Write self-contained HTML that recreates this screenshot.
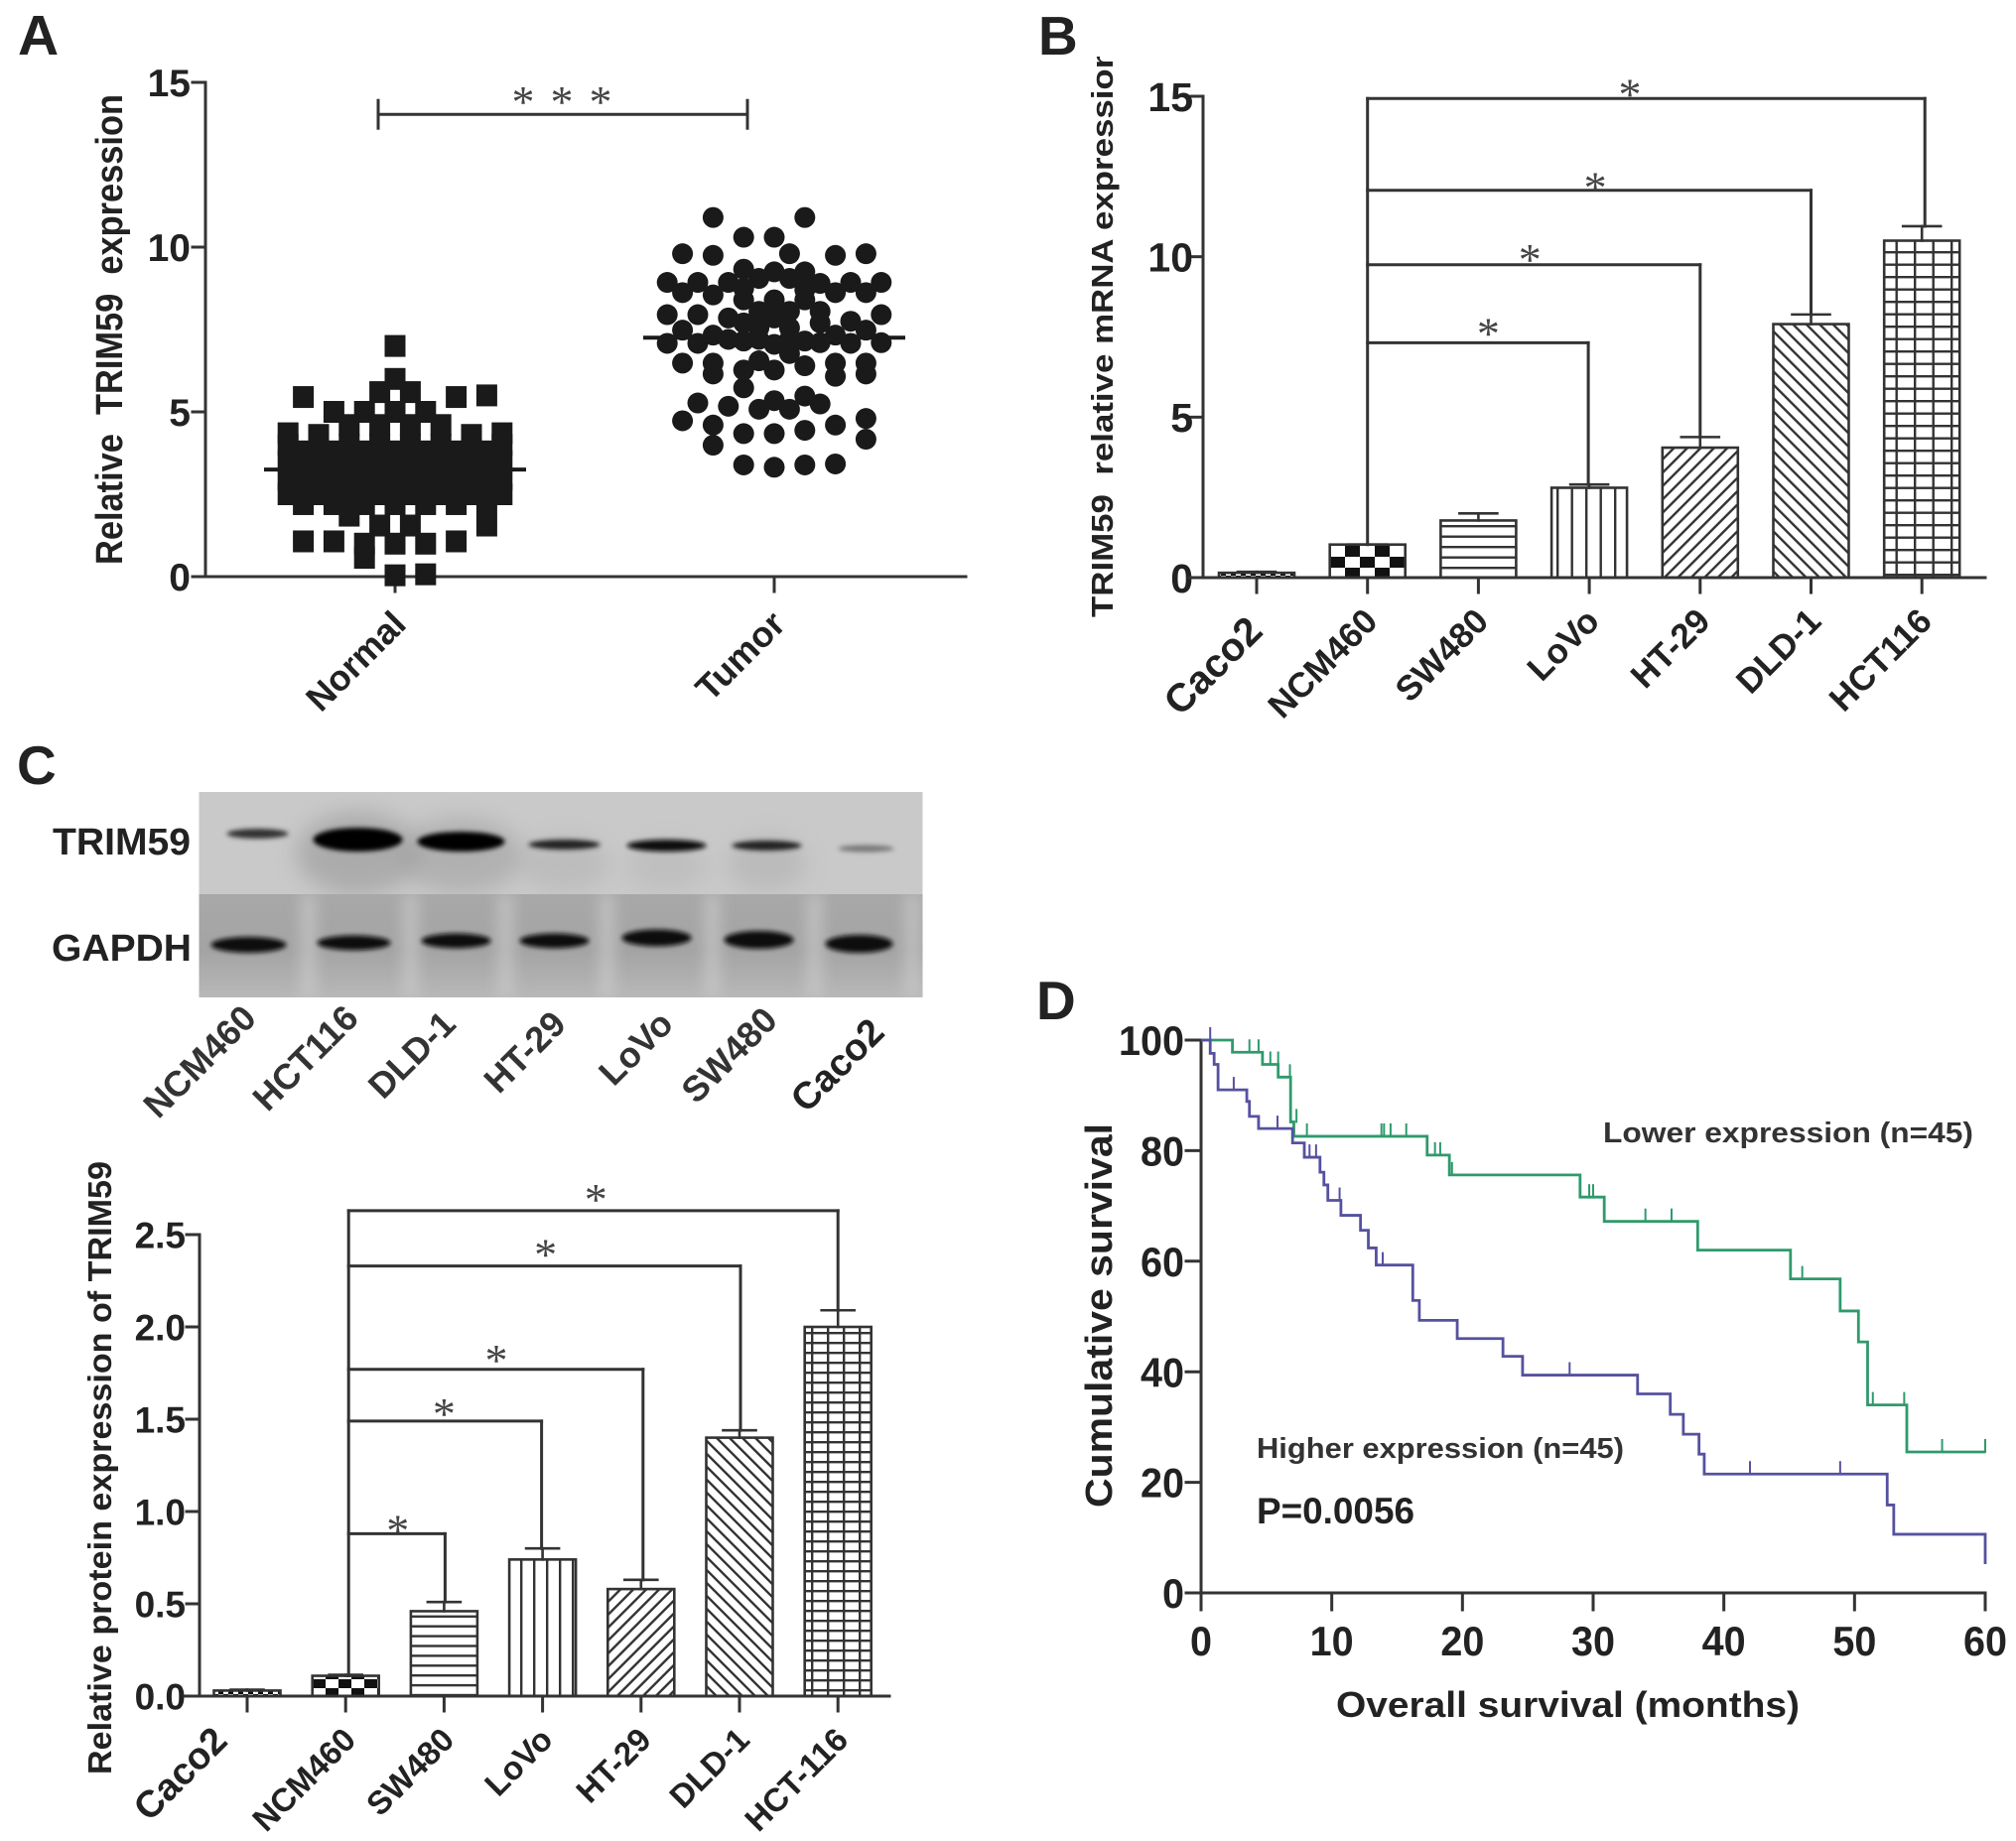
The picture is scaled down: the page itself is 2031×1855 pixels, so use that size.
<!DOCTYPE html>
<html>
<head>
<meta charset="utf-8">
<title>TRIM59 expression figure</title>
<style>
html,body{margin:0;padding:0;background:#fff;}
svg{display:block;font-family:"Liberation Sans",Arial,sans-serif;}
text{fill:#222;font-weight:bold;}
</style>
</head>
<body>
<svg id="fig" xmlns="http://www.w3.org/2000/svg" width="2031" height="1855" viewBox="0 0 2031 1855">
<defs>
  <pattern id="b-p0" width="10" height="8" patternUnits="userSpaceOnUse"><rect width="5" height="4" fill="#111"/><rect x="5" y="4" width="5" height="4" fill="#111"/></pattern>
  <pattern id="b-p1" width="30" height="22" patternUnits="userSpaceOnUse" x="5" y="0"><rect width="15" height="11" fill="#111"/><rect x="15" y="11" width="15" height="11" fill="#111"/></pattern>
  <pattern id="b-p2" width="10" height="10.5" patternUnits="userSpaceOnUse" y="4"><rect width="10" height="2.4" fill="#333"/></pattern>
  <pattern id="b-p3" width="14.5" height="10" patternUnits="userSpaceOnUse" x="2"><rect width="2.4" height="10" fill="#333"/></pattern>
  <pattern id="b-p4" width="9.5" height="9.5" patternUnits="userSpaceOnUse" patternTransform="rotate(45)"><rect width="2.4" height="9.5" fill="#333"/></pattern>
  <pattern id="b-p5" width="9.5" height="9.5" patternUnits="userSpaceOnUse" patternTransform="rotate(-45)"><rect width="2.4" height="9.5" fill="#333"/></pattern>
  <pattern id="b-p6" width="18.5" height="12.5" patternUnits="userSpaceOnUse" x="4" y="3"><rect width="2.4" height="12.5" fill="#333"/><rect width="18.5" height="2.4" fill="#333"/></pattern>
  <pattern id="c-p0" width="10" height="6" patternUnits="userSpaceOnUse"><rect width="5" height="3" fill="#111"/><rect x="5" y="3" width="5" height="3" fill="#111"/></pattern>
  <pattern id="c-p1" width="26" height="18" patternUnits="userSpaceOnUse" x="3" y="0"><rect width="13" height="9" fill="#111"/><rect x="13" y="9" width="13" height="9" fill="#111"/></pattern>
  <pattern id="c-p2" width="10" height="9.9" patternUnits="userSpaceOnUse" y="4"><rect width="10" height="2.4" fill="#333"/></pattern>
  <pattern id="c-p3" width="13" height="10" patternUnits="userSpaceOnUse" x="4"><rect width="2.4" height="10" fill="#333"/></pattern>
  <pattern id="c-p4" width="9.2" height="9.2" patternUnits="userSpaceOnUse" patternTransform="rotate(45)"><rect width="2.4" height="9.2" fill="#333"/></pattern>
  <pattern id="c-p5" width="9.2" height="9.2" patternUnits="userSpaceOnUse" patternTransform="rotate(-45)"><rect width="2.4" height="9.2" fill="#333"/></pattern>
  <pattern id="c-p6" width="16" height="10" patternUnits="userSpaceOnUse" x="1" y="2"><rect width="2.4" height="10" fill="#333"/><rect width="16" height="2.4" fill="#333"/></pattern>
  <filter id="soft" x="-40%" y="-120%" width="180%" height="340%"><feGaussianBlur stdDeviation="2.4"/></filter>
  <filter id="softer" x="-50%" y="-50%" width="200%" height="200%"><feGaussianBlur stdDeviation="11"/></filter>
  <filter id="lane" x="-200%" y="-10%" width="500%" height="120%"><feGaussianBlur stdDeviation="7"/></filter>
  <linearGradient id="gapdh-bg" x1="0" y1="0" x2="0" y2="1"><stop offset="0" stop-color="#a8a8a8"/><stop offset="0.55" stop-color="#a4a4a4"/><stop offset="1" stop-color="#b8b8b8"/></linearGradient>
  <clipPath id="b-title-clip"><rect x="1080" y="57" width="60" height="600"/></clipPath>
  <clipPath id="blot-top-clip"><rect x="204" y="798" width="729" height="103"/></clipPath>
  <clipPath id="blot-bottom-clip"><rect x="204" y="901" width="729" height="104"/></clipPath>
</defs>

<rect width="2031" height="1855" fill="#fff"/>

<text x="18" y="55" font-size="57">A</text>
<text x="1046" y="55" font-size="55">B</text>
<text x="17" y="790" font-size="55">C</text>
<text x="1044" y="1027" font-size="55">D</text>

<text transform="translate(123,569) rotate(-90)" font-size="38" textLength="474" lengthAdjust="spacingAndGlyphs">Relative&#160; TRIM59&#160; expression</text>
<g clip-path="url(#b-title-clip)">
  <text font-size="31" transform="translate(1121,622) rotate(-90)" textLength="574" lengthAdjust="spacingAndGlyphs">TRIM59&#160; relative mRNA expression</text>
</g>
<text transform="translate(112,1788) rotate(-90)" font-size="33" textLength="618" lengthAdjust="spacingAndGlyphs">Relative protein expression of TRIM59</text>
<text transform="translate(1120,1519) rotate(-90)" font-size="38" textLength="387" lengthAdjust="spacingAndGlyphs">Cumulative survival</text>
<text x="1346" y="1730" font-size="36" textLength="467" lengthAdjust="spacingAndGlyphs">Overall survival (months)</text>
<text x="1615" y="1151" font-size="29" textLength="373" lengthAdjust="spacingAndGlyphs" style="fill:#333">Lower expression (n=45)</text>
<text x="1266" y="1469" font-size="29" textLength="370" lengthAdjust="spacingAndGlyphs" style="fill:#333">Higher expression (n=45)</text>
<text x="1266" y="1535" font-size="37" textLength="159" lengthAdjust="spacingAndGlyphs">P=0.0056</text>

<g transform="translate(-3.5,0)">
  <rect x="204" y="798" width="729" height="103" fill="#c9c9c9"/>
  <g clip-path="url(#blot-top-clip)">
    <ellipse cx="364" cy="860" rx="62" ry="42" fill="#8f8f8f" opacity="0.5" filter="url(#softer)"/>
    <ellipse cx="468" cy="862" rx="62" ry="38" fill="#949494" opacity="0.45" filter="url(#softer)"/>
    <ellipse cx="572" cy="870" rx="46" ry="28" fill="#a0a0a0" opacity="0.3" filter="url(#softer)"/>
    <ellipse cx="675" cy="872" rx="40" ry="26" fill="#a8a8a8" opacity="0.3" filter="url(#softer)"/>
    <ellipse cx="776" cy="870" rx="40" ry="28" fill="#a0a0a0" opacity="0.35" filter="url(#softer)"/>
    <ellipse cx="263" cy="840" rx="31" ry="5" fill="#333" filter="url(#soft)"/>
    <ellipse cx="364" cy="846" rx="45" ry="12" fill="#000" filter="url(#soft)"/>
    <ellipse cx="468" cy="848" rx="44" ry="10" fill="#000" filter="url(#soft)"/>
    <ellipse cx="572" cy="851" rx="36" ry="5" fill="#222" filter="url(#soft)"/>
    <ellipse cx="675" cy="852" rx="40" ry="6" fill="#111" filter="url(#soft)"/>
    <ellipse cx="776" cy="852" rx="35" ry="5" fill="#222" filter="url(#soft)"/>
    <ellipse cx="876" cy="855" rx="28" ry="3.5" fill="#777" filter="url(#soft)"/>
  </g>
  <rect x="204" y="901" width="729" height="104" fill="url(#gapdh-bg)"/>
  <g clip-path="url(#blot-bottom-clip)">
    <rect x="306" y="901" width="16" height="104" fill="#cfcfcf" opacity="0.6" filter="url(#lane)"/>
    <rect x="409" y="901" width="16" height="104" fill="#cfcfcf" opacity="0.6" filter="url(#lane)"/>
    <rect x="505" y="901" width="16" height="104" fill="#cfcfcf" opacity="0.6" filter="url(#lane)"/>
    <rect x="607" y="901" width="16" height="104" fill="#cfcfcf" opacity="0.6" filter="url(#lane)"/>
    <rect x="713" y="901" width="16" height="104" fill="#cfcfcf" opacity="0.6" filter="url(#lane)"/>
    <rect x="816" y="901" width="16" height="104" fill="#cfcfcf" opacity="0.6" filter="url(#lane)"/>
    <rect x="915" y="901" width="16" height="104" fill="#cfcfcf" opacity="0.6" filter="url(#lane)"/>
    <ellipse cx="254" cy="952" rx="38" ry="8" fill="#0a0a0a" filter="url(#soft)"/>
    <ellipse cx="360" cy="950" rx="37" ry="7.5" fill="#0a0a0a" filter="url(#soft)"/>
    <ellipse cx="463" cy="948" rx="35" ry="7.5" fill="#0a0a0a" filter="url(#soft)"/>
    <ellipse cx="562" cy="948" rx="35" ry="7.5" fill="#0a0a0a" filter="url(#soft)"/>
    <ellipse cx="665" cy="945" rx="35" ry="8.5" fill="#0a0a0a" filter="url(#soft)"/>
    <ellipse cx="768" cy="947" rx="35" ry="9" fill="#0a0a0a" filter="url(#soft)"/>
    <ellipse cx="869" cy="951" rx="34" ry="9" fill="#0a0a0a" filter="url(#soft)"/>
  </g>
</g>
<text x="53" y="861" font-size="38" textLength="139" lengthAdjust="spacingAndGlyphs">TRIM59</text>
<text x="52" y="968" font-size="38" textLength="141" lengthAdjust="spacingAndGlyphs">GAPDH</text>
<g font-size="36" text-anchor="end">
  <text style="fill:#333" transform="translate(260,1028) rotate(-45)">NCM460</text>
  <text style="fill:#333" transform="translate(363,1028) rotate(-45)">HCT116</text>
  <text style="fill:#333" transform="translate(461,1034) rotate(-45)">DLD-1</text>
  <text style="fill:#333" transform="translate(572,1034) rotate(-45)">HT-29</text>
  <text style="fill:#333" transform="translate(680,1034) rotate(-45)">LoVo</text>
  <text style="fill:#333" transform="translate(785,1030) rotate(-45)">SW480</text>
  <text style="fill:#222" transform="translate(893,1042) rotate(-45)" font-size="38">Caco2</text>
</g>
</svg>

<script>
// ---------- Panel A data ----------
const aCategories = ['Normal', 'Tumor'];
const aYTicks = [0, 5, 10, 15];
const normalValues = [
  7.0, 6.0, 5.6, 5.6, 5.45, 5.45, 5.5, 5.0, 5.0, 5.0, 5.0,
  4.6, 4.6, 4.6, 4.6, 4.35, 4.35, 4.3, 4.3,
  4.0, 4.0, 4.0, 4.0, 4.0, 4.0, 4.0, 4.0,
  3.8, 3.8, 3.8, 3.8, 3.8, 3.8, 3.8,
  3.5, 3.5, 3.5, 3.5, 3.5, 3.5, 3.5, 3.5,
  3.2, 3.2, 3.2, 3.2, 3.2, 3.2, 3.2,
  2.95, 2.95, 2.95, 2.95, 2.95, 2.95, 2.95, 2.95,
  2.65, 2.65, 2.65, 2.65, 2.65, 2.65, 2.65,
  2.5, 2.5, 2.5, 2.5, 2.5, 2.5, 2.5, 2.5,
  2.2, 2.2, 2.2, 2.2, 2.2, 2.2, 2.2,
  1.85, 1.55, 1.55, 1.55,
  1.07, 1.07, 1.0, 1.0, 1.0, 1.07, 0.57, 0.04, 0.07
];
const normalSlots = [
  0, 0, -1, 1, -6, 4, 6, -4, -2, 0, 2,
  -3, -1, 1, 3, -7, 7, -5, 5,
  -7, -5, -3, -1, 1, 3, 5, 7,
  -6, -4, -2, 0, 2, 4, 6,
  -7, -5, -3, -1, 1, 3, 5, 7,
  -6, -4, -2, 0, 2, 4, 6,
  -7, -5, -3, -1, 1, 3, 5, 7,
  -6, -4, -2, 0, 2, 4, 6,
  -7, -5, -3, -1, 1, 3, 5, 7,
  -6, -4, -2, 0, 2, 4, 6,
  -3, -1, 1, 6,
  -6, -4, -2, 0, 2, 4, -2, 0, 2
];
const tumorValues = [
  10.9, 10.9, 10.3, 10.3, 9.8, 9.75, 9.8, 9.75, 9.8,
  9.33, 9.25, 9.25, 8.93, 8.93, 8.93, 9.05, 9.05, 8.9, 8.93, 8.93,
  8.62, 8.55, 8.75, 8.4, 8.7, 8.62, 8.62,
  8.4, 8.25, 8.05, 8.05, 8.4, 8.05, 7.85, 7.7,
  7.95, 7.95, 7.95, 7.75, 7.7, 7.85, 7.55, 7.55,
  7.48, 7.48, 7.33, 7.33,
  7.08, 7.08, 7.2, 7.2, 7.2, 7.1, 7.08, 7.1, 7.15, 7.05, 7.15,
  6.48, 6.48, 6.55, 6.77, 6.27, 6.4, 6.48, 6.48, 6.15, 6.27, 6.08, 6.15,
  5.73, 5.27, 5.17, 5.08, 5.34, 5.08, 5.48, 5.24,
  4.73, 4.6, 4.34, 4.34, 4.44, 4.6, 4.8, 4.17, 3.99,
  3.39, 3.32, 3.39, 3.42
];
const tumorSlots = [
  -4, 2, -2, 0, -6, -4, 1, 4, 6,
  -2, 0, 2, -7, -5, -3, -1, 1, 3, 5, 7,
  -6, -4, -2, 0, 2, 4, 6,
  -2, 0, -1, 1, 2, 3, -3, 3,
  -7, -5, 7, 5, -2, 0, -1, 1,
  -6, 6, -4, 4,
  -7, -5, -3, -1, 1, 3, 5, 7, -2, 0, 2,
  -6, -4, -1, 1, 0, 2, 4, 6, -4, -2, 4, 6,
  -2, -5, -3, -1, 0, 1, 2, 3,
  -6, -4, -2, 0, 2, 4, 6, 6, -4,
  -2, 0, 2, 4
];
const aMedians = [3.25, 7.25];
const aBracketLevel = 14.03;

// ---------- Panel B data ----------
const bCategories = ['Caco2', 'NCM460', 'SW480', 'LoVo', 'HT-29', 'DLD-1', 'HCT116'];
const bValues = [0.15, 1.03, 1.78, 2.8, 4.05, 7.9, 10.5];
const bErrors = [0.03, 0, 0.22, 0.1, 0.33, 0.3, 0.45];
const bYTicks = [0, 5, 10, 15];
const bBracketLevels = [14.93, 12.07, 9.75, 7.32];
const bBracketTargets = [6, 5, 4, 3];

// ---------- Panel C data ----------
const cCategories = ['Caco2', 'NCM460', 'SW480', 'LoVo', 'HT-29', 'DLD-1', 'HCT-116'];
const cValues = [0.03, 0.11, 0.46, 0.74, 0.58, 1.4, 2.0];
const cErrors = [0.005, 0.005, 0.05, 0.06, 0.05, 0.04, 0.09];
const cYTicks = [0, 0.5, 1, 1.5, 2, 2.5];
const cBracketLevels = [2.63, 2.33, 1.77, 1.49, 0.88];
const cBracketTargets = [6, 5, 4, 3, 2];

// ---------- Panel D data ----------
const dXTicks = [0, 10, 20, 30, 40, 50, 60];
const dYTicks = [0, 20, 40, 60, 80, 100];
const lowerTimes = [0, 2.4, 4.7, 5.9, 6.85, 7.1, 8, 17.3, 19, 29, 30.85, 38, 45.1, 48.9, 50.3, 51, 54, 60];
const lowerSurvival = [100, 97.8, 95.6, 93.3, 85.2, 82.6, 82.6, 79.2, 75.6, 71.6, 67.2, 62, 56.8, 51, 45.4, 34, 25.5, 25.5];
const lowerCensorTimes = [3.7, 4.4, 5.3, 5.9, 6.8, 7.3, 8.1, 13.8, 14, 14.5, 15.7, 17.9, 18.3, 19.2, 29.7, 30, 34, 36, 46, 51.4, 53.8, 56.7, 60];
const lowerCensorLevels = [97.8, 97.8, 95.6, 95.6, 93.3, 85.2, 82.6, 82.6, 82.6, 82.6, 82.6, 79.2, 79.2, 75.6, 71.6, 71.6, 67.2, 67.2, 56.8, 34, 34, 25.5, 25.5];
const higherTimes = [0, 0.7, 1.0, 1.3, 3.5, 3.7, 4.4, 7, 7.9, 9.1, 9.4, 9.7, 10.7, 12.2, 12.8, 13.4, 16.2, 16.7, 19.6, 23.1, 24.6, 33.4, 35.9, 36.9, 38.1, 38.5, 52.5, 53, 60];
const higherSurvival = [100, 97.6, 95.6, 91, 88.9, 86.2, 84, 81.4, 78.8, 76.1, 73.8, 71, 68.3, 65.6, 62.4, 59.3, 52.9, 49.3, 46, 42.8, 39.4, 36, 32.3, 28.7, 25.1, 21.5, 15.9, 10.6, 5.2];
const higherCensorTimes = [0.7, 2.5, 5.85, 8.3, 8.8, 10.6, 13.9, 28.2, 42, 48.9];
const higherCensorLevels = [100, 91, 84, 78.8, 78.8, 71, 59.3, 39.4, 21.5, 21.5];

// ---------- helpers ----------
const NS = 'http://www.w3.org/2000/svg';
const svg = document.getElementById('fig');
function make(tag, attrs, parent) {
  const e = document.createElementNS(NS, tag);
  for (const k in attrs) e.setAttribute(k, attrs[k]);
  parent.appendChild(e);
  return e;
}
function seg(parent, x1, y1, x2, y2, w, color) {
  return make('line', {x1: x1, y1: y1, x2: x2, y2: y2, stroke: color || '#333', 'stroke-width': w || 3, 'stroke-linecap': 'square'}, parent);
}
function label(parent, x, y, str, size, anchor, rot, fit) {
  const attrs = {'font-size': size, 'text-anchor': anchor};
  if (rot) attrs.transform = 'translate(' + x + ',' + y + ') rotate(' + rot + ')';
  else { attrs.x = x; attrs.y = y; }
  if (fit) { attrs.textLength = fit; attrs.lengthAdjust = 'spacingAndGlyphs'; }
  const t = make('text', attrs, parent);
  t.textContent = str;
  return t;
}
function star(parent, cx, cy) {
  const t = make('text', {x: cx, y: cy + 21, 'font-size': 46, 'text-anchor': 'middle', style: 'font-family:"Liberation Serif",serif;font-weight:normal;fill:#444'}, parent);
  t.textContent = '*';
  return t;
}
function yAxis(parent, axisX, yScale, ticks, tickLen, fontSize, format, digitW, gap) {
  const line = seg(parent, axisX, yScale(ticks[0]), axisX, yScale(ticks[ticks.length - 1]));
  
  
  ticks.forEach(function (v) {
    const tk = seg(parent, axisX - tickLen, yScale(v), axisX, yScale(v));
    
    
    const s = format(v);
    const tx = label(parent, axisX - tickLen - gap, yScale(v) + fontSize * 0.36, s, fontSize, 'end', 0, digitW ? s.length * digitW : 0);
    
    
  });
}

// ---------- Panel A ----------
const gA = make('g', {}, svg);


const aY0 = 581, aY15 = 83;
function aY(v) { return aY0 - v * (aY0 - aY15) / 15; }
function aX(cat) { return 398 + cat * 382; }
const aSlot = 15.4;
yAxis(gA, 207, aY, aYTicks, 13, 39, String, 0, 2);
const aXLine = seg(gA, 207, aY(0), 973, aY(0));


aCategories.forEach(function (c, i) {
  const tk = seg(gA, aX(i), aY(0), aX(i), aY(0) + 15);
  
  
  const t = label(gA, aX(i) + 13, 631, c, 36, 'end', -45);
  
  
});
normalValues.forEach(function (v, i) {
  const cx = aX(0) + normalSlots[i] * aSlot;
  const r = make('rect', {x: cx - 10.5, y: aY(v) - 11, width: 21, height: 22, fill: '#1a1a1a'}, gA);
  
  
});
tumorValues.forEach(function (v, i) {
  const cx = aX(1) + tumorSlots[i] * aSlot;
  const c = make('circle', {cx: cx, cy: aY(v), r: 10.5, fill: '#1a1a1a'}, gA);
  
  
});
aMedians.forEach(function (m, i) {
  const l = seg(gA, aX(i) - 130, aY(m), aX(i) + 130, aY(m), 4, '#1a1a1a');
  
  
});
const aB = make('g', {}, gA);


seg(aB, 381, aY(aBracketLevel), 753, aY(aBracketLevel));
seg(aB, 381, aY(aBracketLevel) - 14, 381, aY(aBracketLevel) + 14);
seg(aB, 753, aY(aBracketLevel) - 14, 753, aY(aBracketLevel) + 14);
star(aB, 527, 97);
star(aB, 566, 97);
star(aB, 605, 97);

// ---------- Bar panels ----------
function barPanel(cfg) {
  const g = make('g', {}, svg);
  
  
  const y = function (v) { return cfg.y0 - v * (cfg.y0 - cfg.yTop) / cfg.topVal; };
  const x = function (i) { return cfg.x0 + i * cfg.step; };
  cfg.values.forEach(function (v, i) {
    const bar = make('rect', {x: x(i) - cfg.barW / 2, y: y(v), width: cfg.barW, height: cfg.y0 - y(v), fill: 'url(#' + cfg.pat + '-p' + i + ')', stroke: '#333', 'stroke-width': 2.6}, g);
    
    
    const top = v + cfg.errors[i];
    const stem = seg(g, x(i), y(v), x(i), y(top), 2.6);
    
    
    const cap = seg(g, x(i) - cfg.capW / 2, y(top), x(i) + cfg.capW / 2, y(top), 2.6);
    
    
  });
  yAxis(g, cfg.axisX, y, cfg.yTicks, cfg.tickLen, cfg.tickSize, cfg.format, 0, cfg.tickGap);
  const xl = seg(g, cfg.xStart, cfg.y0, cfg.xEnd, cfg.y0);
  
  
  cfg.categories.forEach(function (c, i) {
    const tk = seg(g, x(i), cfg.y0, x(i), cfg.y0 + 15);
    
    
    const t = label(g, x(i) + (i === 0 ? cfg.firstDx : 12), cfg.labelY + (i === 0 ? cfg.firstDy : 0), c, i === 0 ? cfg.firstSize : cfg.labelSize, 'end', -45);
    
    
  });
  const maxLevel = Math.max.apply(null, cfg.levels);
  const ref = seg(g, x(1) + cfg.refDx, y(maxLevel), x(1) + cfg.refDx, y(cfg.values[1]));
  
  
  cfg.levels.forEach(function (lv, k) {
    const ti = cfg.targets[k];
    const h = seg(g, x(1) + cfg.refDx, y(lv), x(ti) + cfg.dropDx[k], y(lv));
    
    
    const d = seg(g, x(ti) + cfg.dropDx[k], y(lv), x(ti) + cfg.dropDx[k], y(cfg.values[ti] + cfg.errors[ti]));
    
    
    const s = star(g, (x(1) + x(ti)) / 2 + cfg.starDx[k], y(lv) - cfg.starGap + cfg.starDy[k]);
    
    
  });
}
barPanel({name: 'panel-b-bars', categories: bCategories, values: bValues, errors: bErrors, yTicks: bYTicks,
  levels: bBracketLevels, targets: bBracketTargets, y0: 582, yTop: 97, topVal: 15, x0: 1266, step: 111.7,
  barW: 76, capW: 38, axisX: 1212, tickLen: 12, xStart: 1198, xEnd: 2000, pat: 'b', format: String,
  tickSize: 41, tickGap: -2, refDx: 0, dropDx: [3, 0, 0, -1],
  labelY: 628, labelSize: 35, firstSize: 40, firstDx: 8, firstDy: 10, starGap: 11,
  starDx: [-15, 6, -4, 10], starDy: [1, 3, 0, -4]});
barPanel({name: 'panel-c-bars', categories: cCategories, values: cValues, errors: cErrors, yTicks: cYTicks,
  levels: cBracketLevels, targets: cBracketTargets, y0: 1709, yTop: 1244, topVal: 2.5, x0: 249, step: 99.2,
  barW: 67, capW: 33, axisX: 201, tickLen: 13, xStart: 186, xEnd: 896, pat: 'c',
  format: function (v) { return v.toFixed(1); },
  tickSize: 37, tickGap: 1, refDx: 3, dropDx: [0, 1, 2, -1, 1],
  labelY: 1755, labelSize: 33, firstSize: 38, firstDx: -18, firstDy: 1, starGap: 15,
  starDx: [4, 3, 3, 0, 3], starDy: [-2, -2, 0, 2, 6]});

// ---------- Panel D ----------
const gD = make('g', {}, svg);


function dX(t) { return 1210 + t * (2000 - 1210) / 60; }
function dY(s) { return 1605 - s * (1605 - 1048) / 100; }
yAxis(gD, 1210, dY, dYTicks, 15, 42, String, 22, 2);
const dXLine = seg(gD, 1210, dY(0), 2000, dY(0));


dXTicks.forEach(function (v) {
  const tk = seg(gD, dX(v), dY(0), dX(v), dY(0) + 17);
  
  
  const s = String(v);
  const t = label(gD, dX(v), 1668, s, 42, 'middle', 0, s.length * 22);
  
  
});
function stepPath(times, levels) {
  let d = 'M' + dX(times[0]) + ' ' + dY(levels[0]);
  for (let i = 1; i < times.length; i++) {
    d += ' H' + dX(times[i]) + ' V' + dY(levels[i]);
  }
  return d;
}
const lowerColor = '#2f9a6c', higherColor = '#55519f';
const lowerCurve = make('path', {d: stepPath(lowerTimes, lowerSurvival), fill: 'none', stroke: lowerColor, 'stroke-width': 2.8}, gD);


const higherCurve = make('path', {d: stepPath(higherTimes, higherSurvival), fill: 'none', stroke: higherColor, 'stroke-width': 2.8}, gD);


lowerCensorTimes.forEach(function (t, i) {
  const m = seg(gD, dX(t), dY(lowerCensorLevels[i]), dX(t), dY(lowerCensorLevels[i]) - 12, 2, lowerColor);
  
  
});
higherCensorTimes.forEach(function (t, i) {
  const m = seg(gD, dX(t), dY(higherCensorLevels[i]), dX(t), dY(higherCensorLevels[i]) - 12, 2, higherColor);
  
  
});
</script>
</body>
</html>
